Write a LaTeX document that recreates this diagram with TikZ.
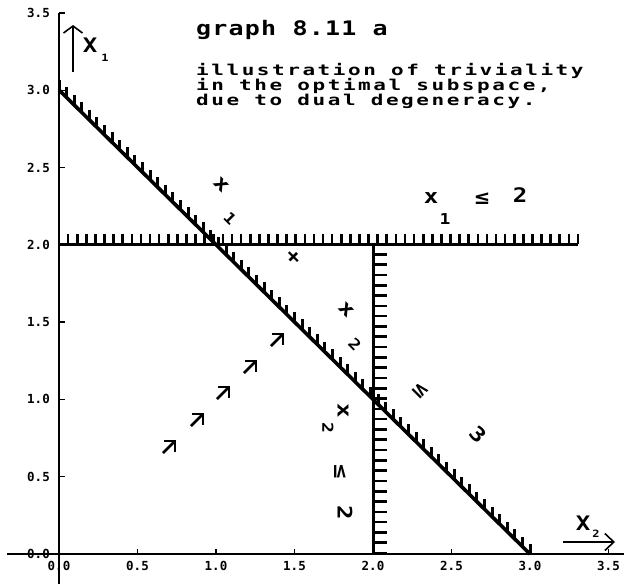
\documentclass[tikz,border=0pt]{standalone}
\usepackage{fontspec}
\usetikzlibrary{arrows.meta,calc}
\newfontfamily\titlefont[FakeStretch=1.25,LetterSpace=6]{DejaVu Sans Mono Bold}
\newfontfamily\descfont[FakeStretch=1.4,LetterSpace=17]{DejaVu Sans Mono Bold}
\newfontfamily\plotplain[FakeStretch=1.2]{DejaVu Sans Mono Bold}
\newfontfamily\numfont{DejaVu Sans Mono Bold}
\tikzset{
  axisline/.style={line width=1.5pt},
  tickmark/.style={line width=1.3pt},
  cline/.style={line width=3pt},
  dline/.style={line width=3.6pt},
  hatchmark/.style={line width=2.6pt},
  dhatchmark/.style={line width=3pt},
  ticklab/.style={font=\numfont\fontsize{12.5}{12.5}\selectfont, inner sep=0pt},
  titletext/.style={font=\titlefont\fontsize{20}{15}\selectfont, inner sep=0pt, anchor=base west},
  desctext/.style={font=\descfont\fontsize{15}{15}\selectfont, inner sep=0pt, anchor=base west},
  glyph/.style={font=\plotplain\fontsize{20}{20}\selectfont, inner sep=0pt},
  subglyph/.style={font=\plotplain\fontsize{15}{15}\selectfont, inner sep=0pt},
  axsub/.style={font=\plotplain\fontsize{10}{10}\selectfont, inner sep=0pt},
  axarrow/.style={line width=1.6pt},
  objarrow/.pic={
    \draw[line width=2.8pt] (-6,6) -- (6,-6);
    \draw[line width=2.8pt, line join=miter] (-5,-6) -- (6,-6) -- (6,5);
  }
}
\begin{document}
\begin{tikzpicture}[x=1pt,y=-1pt]
\useasboundingbox (0,0) rectangle (624,584);

% axes
\coordinate (yTop) at (59,13);
\coordinate (yBot) at (59,584);
\coordinate (xLeft) at (7,554);
\coordinate (xRight) at (624,554);
\draw[axisline] (yTop) -- (yBot);
\draw[axisline] (xLeft) -- (xRight);

% y ticks and labels
\foreach \v/\lab in {0/0.0,0.5/0.5,1/1.0,1.5/1.5,2/2.0,2.5/2.5,3/3.0,3.5/3.5}{
  \coordinate (yt) at (59,{554-154.6*\v});
  \ifdim\v pt>0pt \draw[tickmark] (yt) -- ++(6,0); \fi
  \node[ticklab, anchor=east] (ylab\lab) at ($(yt)+(-9,0)$) {\lab};
}
% x ticks and labels
\foreach \v/\lab in {0/0.0,0.5/0.5,1/1.0,1.5/1.5,2/2.0,2.5/2.5,3/3.0,3.5/3.5}{
  \coordinate (xt) at ({59+157*\v},554);
  \ifdim\v pt>0pt \draw[tickmark] (xt) -- ++(0,-5); \fi
  \node[ticklab] (xlab\lab) at ($(xt)+(0,12)$) {\lab};
}

% axis arrows and labels
\coordinate (xoneA) at (73,72);
\coordinate (xoneB) at (73,25);
\draw[axarrow, -{Straight Barb[length=7pt,width=19pt,line width=1.6pt]}] (xoneA) -- (xoneB);
\node[glyph] (Xone) at (90,45) {X};
\node[axsub] (Xonesub) at (105,58) {1};

\coordinate (xtwoA) at (563,542);
\coordinate (xtwoB) at (615,542);
\draw[axarrow, -{Straight Barb[length=9pt,width=17pt,line width=1.6pt]}] (xtwoA) -- (xtwoB);
\node[glyph] (Xtwo) at (583,523) {X};
\node[axsub] (Xtwosub) at (596,534) {2};

% constraint x1 + x2 <= 3
\coordinate (A) at (59,90);
\coordinate (B) at (530,554);
\draw[dline] (A) -- (B);
\foreach \i in {0,...,62}{
  \draw[dhatchmark] ($(A)!{\i/62}!(B)$) -- ++(0,-10);
}

% constraint x1 <= 2
\coordinate (C) at (59,244);
\coordinate (Cend) at (578,244);
\draw[cline] (C) -- (Cend);
\foreach \i in {0,...,57}{
  \draw[hatchmark] ($(C)!{\i/57}!(Cend)$) -- ++(0,-10);
}

% constraint x2 <= 2
\coordinate (D) at (373,244);
\coordinate (E) at (373,554);
\draw[cline] (D) -- (E);
\foreach \i in {1,...,30}{
  \draw[hatchmark] ($(D)+(0,{\i*10.3})$) -- ++(14,0);
}

% labels of x1 + x2 <= 3 (rotated glyphs)
\node[glyph, rotate=-45] (dx1) at (221,185) {x};
\node[subglyph, rotate=-45] (dx1s) at (230,218) {1};
\node[glyph, rotate=-45] (dplus) at (293,257) {+};
\node[glyph, rotate=-45] (dx2) at (346,310) {x};
\node[subglyph, rotate=-45] (dx2s) at (355,344) {2};
\node[glyph, rotate=-45] (dle) at (420,390) {≤};
\node[glyph, rotate=-45] (dthree) at (478,434) {3};

% labels of x2 <= 2
\node[glyph, rotate=-90] (vx) at (343,411) {x};
\node[subglyph, rotate=-90] (vxs) at (328,428) {2};
\node[glyph, rotate=-90] (vle) at (340,472) {≤};
\node[glyph, rotate=-90] (vtwo) at (345,513) {2};

% labels of x1 <= 2
\node[glyph] (hx) at (431,198) {x};
\node[subglyph] (hxs) at (445,219) {1};
\node[glyph] (hle) at (482,199) {≤};
\node[glyph] (htwo) at (520,195) {2};

% objective direction arrows
\pic at (169,447) {objarrow};
\pic at (197,420) {objarrow};
\pic at (223,393) {objarrow};
\pic at (250,367) {objarrow};
\pic at (277,340) {objarrow};

% title text
\node[titletext] (title) at (196,35) {graph 8.11 a};
\node[desctext] (lineone) at (196,75) {illustration of triviality};
\node[desctext] (linetwo) at (196,90) {in the optimal subspace,};
\node[desctext] (linethree) at (196,105) {due to dual degeneracy.};
\end{tikzpicture}
\end{document}
